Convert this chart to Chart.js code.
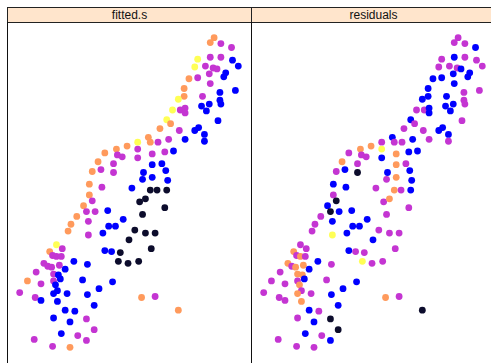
<!DOCTYPE html>
<html>
<head>
<meta charset="utf-8">
<script src="https://cdn.jsdelivr.net/npm/chart.js@4/dist/chart.umd.min.js"></script>
<style>
  html, body { margin: 0; padding: 0; background: #fff; }
  body { width: 491px; height: 363px; overflow: hidden; position: relative; font-family: "Liberation Sans", Arial, sans-serif; }
  .strip {
    position: absolute; top: 7px; height: 16px; width: 245px;
    background: #ffe5cc; border: 1px solid #222; box-sizing: border-box;
    font-size: 12px; line-height: 14px; text-align: center; color: #111;
  }
  .frame {
    position: absolute; top: 22px; width: 245px; height: 400px;
    border: 1px solid #111; border-top: none; box-sizing: border-box;
  }
  canvas { position: absolute; top: 22px; }
</style>
</head>
<body>
<div class="strip" style="left:7px">fitted.s</div>
<div class="strip" style="left:251px">residuals</div>
<div class="frame" style="left:7px"></div>
<div class="frame" style="left:251px"></div>
<canvas id="fitChart" width="244" height="341" style="left:7px"></canvas>
<canvas id="resChart" width="244" height="341" style="left:251px"></canvas>
<script>
// point positions (same in both panels)
const xs = [217,213,224,235,200,213,224,236,242,197,208,216,220,212,229,227,191,200,213,186,186,223,239,180,205,223,224,204,212,209,174,182,187,187,168,172,221,
  161,181,197,201,207,207,187,149,151,138,159,170,127,116,104,117,122,138,138,153,166,175,97,113,153,163,91,100,113,144,167,143,153,169,88,101,132,151,158,168,88,91,140,146,82,85,94,107,166,143,75,87,123,108,115,69,135,146,156,66,87,102,129,54,60,152,
  47,50,54,59,104,111,120,118,128,139,72,86,41,45,49,57,63,33,51,56,58,51,24,81,112,38,53,55,51,65,98,16,32,38,86,55,142,156,93,63,73,180,51,68,85,93,59,76,31,85,50,68];
const ys = [34,39,40,44,56,54,54,57,63,64,63,65,66,71,70,74,76,75,81,86,94,90,88,97,94,98,102,104,102,109,108,108,106,111,118,122,119,
  127,129,129,126,133,140,138,136,141,141,141,138,145,148,152,154,156,148,157,153,151,150,161,163,164,163,171,169,172,172,170,179,177,180,184,187,188,190,190,190,195,201,202,199,206,212,212,211,208,215,217,222,220,227,227,225,231,234,234,232,236,234,241,246,250,250,
  253,257,258,258,252,253,254,263,265,263,263,266,265,268,269,267,271,274,276,277,281,283,283,282,284,286,287,293,296,296,291,295,300,303,297,304,300,299,308,313,314,313,321,325,322,333,337,339,343,344,350,351];

// colour level of each point: 0 dark, 1 blue, 2 magenta, 3 orange, 4 yellow
const fittedLevel = [3,3,2,2,4,2,2,1,1,4,2,2,2,2,1,1,3,2,2,3,3,1,1,4,2,1,1,1,1,1,4,2,2,2,4,3,1,
  3,2,1,1,1,1,1,3,3,4,2,2,3,3,3,2,2,2,2,2,2,1,3,2,1,1,3,2,2,1,1,1,1,1,3,2,1,0,0,0,3,2,0,0,3,2,2,1,0,0,3,2,1,1,1,3,0,0,0,3,2,1,0,4,2,0,
  3,2,2,2,1,1,0,0,0,0,1,1,2,2,2,2,1,2,2,1,1,2,3,1,1,2,1,1,1,1,1,2,2,1,1,1,3,2,1,1,1,3,1,1,2,2,1,2,2,2,2,3];
const residLevel = [2,2,2,1,2,1,2,2,2,2,2,2,1,1,1,1,1,1,1,1,1,2,2,1,1,2,2,1,1,1,2,2,1,1,1,2,2,
  2,2,1,1,1,2,2,1,2,2,2,1,3,3,2,2,2,4,1,3,1,1,3,2,3,2,2,1,0,1,1,2,3,1,1,1,2,3,2,1,2,0,2,3,1,0,1,1,2,2,2,1,1,1,1,2,2,2,2,2,4,1,1,2,2,2,
  3,2,3,2,1,2,2,4,2,2,1,2,3,2,3,3,1,2,3,3,1,2,2,2,1,2,3,2,3,2,1,2,2,2,1,3,3,2,1,1,2,0,2,1,0,0,1,2,2,1,2,2];

const levelColors = ["#0c0c2c", "#0000ff", "#c435d2", "#ff9a5c", "#ffff55"];

function makePanel(id, levels) {
  const pts = xs.map((x, i) => ({ x, y: ys[i] }));
  return new Chart(document.getElementById(id), {
    type: "scatter",
    data: {
      datasets: [{
        data: pts,
        pointRadius: 3.4,
        pointBorderWidth: 0,
        pointBackgroundColor: levels.map(l => levelColors[l]),
        pointBorderColor: levels.map(l => levelColors[l])
      }]
    },
    options: {
      responsive: false,
      animation: false,
      layout: { padding: 0 },
      plugins: { legend: { display: false }, tooltip: { enabled: false } },
      scales: {
        x: { display: false, min: 7, max: 251 },
        y: { display: false, min: 22, max: 363, reverse: true }
      }
    }
  });
}

makePanel("fitChart", fittedLevel);
makePanel("resChart", residLevel);
</script>
</body>
</html>
